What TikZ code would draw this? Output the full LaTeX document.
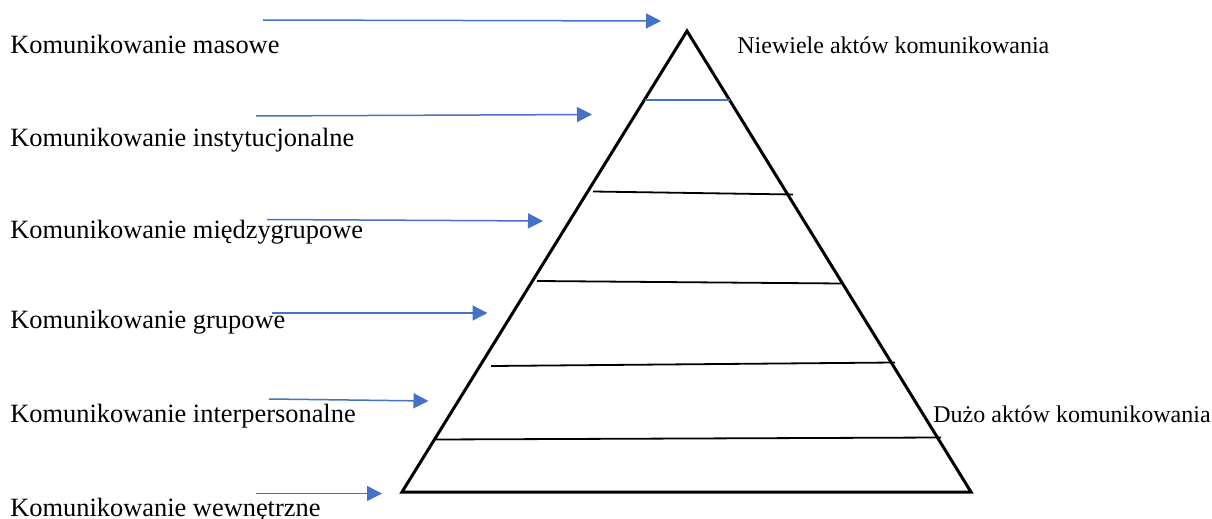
\documentclass[tikz,border=0pt]{standalone}
\usepackage{fontspec}
\setmainfont{Liberation Serif}
\usetikzlibrary{arrows.meta}
\definecolor{arrowblue}{RGB}{68,114,196}
\tikzset{
  lbl/.style={anchor=base west, inner sep=0pt, font=\fontsize{13.2}{15}\selectfont},
  rlbl/.style={anchor=base west, inner sep=0pt, font=\fontsize{12}{14}\selectfont},
  blarrow/.style={draw=arrowblue, line width=0.75pt, -{Triangle[length=7.5pt,width=7.5pt]}},
  tri/.style={draw=black, line width=1.5pt, line join=miter},
  level/.style={draw=black, line width=0.9pt},
  toplevel/.style={draw=arrowblue, line width=0.7pt}
}
\begin{document}
\begin{tikzpicture}[x=0.5pt,y=-0.5pt]
\useasboundingbox (0,0) rectangle (1212,519);
% triangle
\coordinate (apex) at (687,31);
\coordinate (bl) at (402,492);
\coordinate (br) at (971,492);
\draw[tri] (apex) -- (bl) -- (br) -- cycle;
% levels
\coordinate (l0a) at (644.5,100); \coordinate (l0b) at (729.5,100);
\coordinate (l1a) at (593,191.5); \coordinate (l1b) at (793,194.5);
\coordinate (l2a) at (537,281); \coordinate (l2b) at (841,283.5);
\coordinate (l3a) at (491,366); \coordinate (l3b) at (895,362.5);
\coordinate (l4a) at (436,439.5); \coordinate (l4b) at (941,437.5);
\draw[toplevel] (l0a) -- (l0b);
\draw[level] (l1a) -- (l1b);
\draw[level] (l2a) -- (l2b);
\draw[level] (l3a) -- (l3b);
\draw[level] (l4a) -- (l4b);
% labels
\node[lbl] (t1) at (10,54) {Komunikowanie masowe};
\node[lbl] (t2) at (10,146.5) {Komunikowanie instytucjonalne};
\node[lbl] (t3) at (10,238.5) {Komunikowanie międzygrupowe};
\node[lbl] (t4) at (10,328.5) {Komunikowanie grupowe};
\node[lbl] (t5) at (10,422.5) {Komunikowanie interpersonalne};
\node[lbl] (t6) at (10,516) {Komunikowanie wewnętrzne};
\node[rlbl] (few) at (737,54) {Niewiele aktów komunikowania};
\node[rlbl] (many) at (933,422.5) {Dużo aktów komunikowania};
% arrows
\coordinate (a1s) at (263,20); \coordinate (a1e) at (661,21);
\coordinate (a2s) at (256,116); \coordinate (a2e) at (592,114.5);
\coordinate (a3s) at (267,219.5); \coordinate (a3e) at (543,221);
\coordinate (a4s) at (272,313); \coordinate (a4e) at (487.5,313);
\coordinate (a5s) at (269,399); \coordinate (a5e) at (428.5,401);
\coordinate (a6s) at (256,493.5); \coordinate (a6e) at (382,493.5);
\draw[blarrow] (a1s) -- (a1e);
\draw[blarrow] (a2s) -- (a2e);
\draw[blarrow] (a3s) -- (a3e);
\draw[blarrow] (a4s) -- (a4e);
\draw[blarrow] (a5s) -- (a5e);
\draw[blarrow] (a6s) -- (a6e);
\end{tikzpicture}
\end{document}
